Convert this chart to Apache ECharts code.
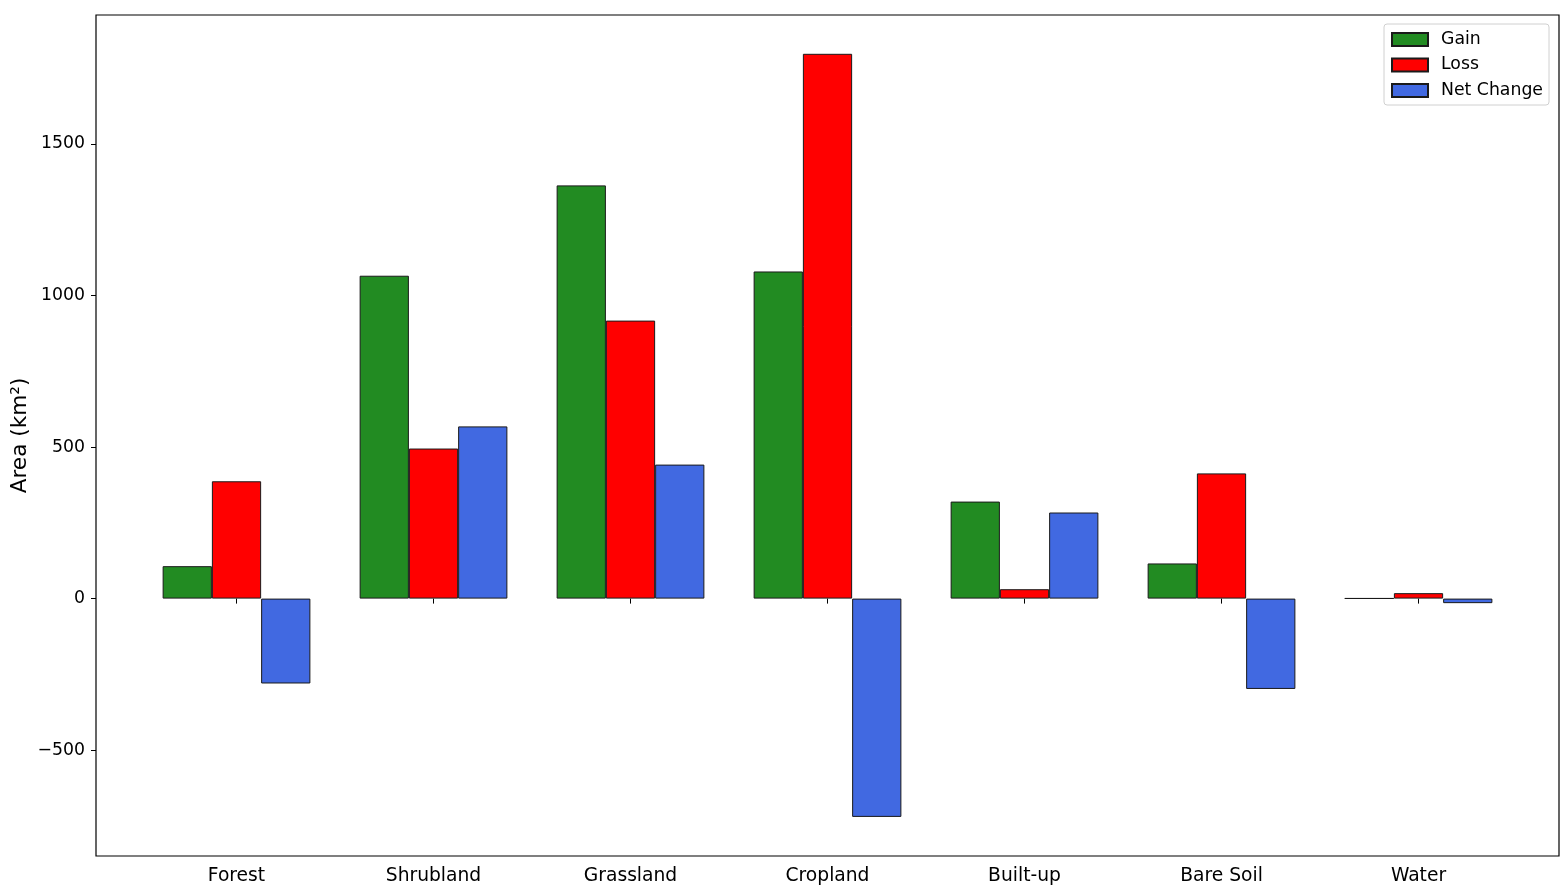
<!DOCTYPE html>
<html>
<head>
<meta charset="utf-8">
<script src="https://cdn.jsdelivr.net/npm/echarts@6/dist/echarts.min.js"></script>
<style>html,body{margin:0;padding:0;background:#fff;}#c{width:1568px;height:894px;}</style>
</head>
<body>
<div id="c"></div>
<script>
const categories = ['Forest', 'Shrubland', 'Grassland', 'Cropland', 'Built-up', 'Bare Soil', 'Water'];
const gain = [107, 1065, 1363, 1079, 320, 116, 1];
const loss = [387, 495, 917, 1797, 31, 413, 18];
const netChange = [-280, 568, 442, -720, 284, -298, -15];
const yTicks = [-500, 0, 500, 1000, 1500];

const chart = echarts.init(document.getElementById('c'), null, {renderer: 'canvas'});
const font = 'DejaVu Sans';
const edge = {borderColor: '#1a1a1a', borderWidth: 1};
function mk(name, data, color) {
  return {
    name: name, type: 'bar', data: data, xAxisIndex: 0, yAxisIndex: 0,
    barGap: '0%', barCategoryGap: '25%',
    itemStyle: Object.assign({color: color}, edge),
    emphasis: {disabled: true}
  };
}
chart.setOption({
  animation: false,
  textStyle: {fontFamily: font},
  grid: [
    {left: 138, right: 51, top: 15, bottom: 38, containLabel: false, outerBoundsMode: 'none'},
    {left: 96, right: 9, top: 15, bottom: 38, show: true, borderColor: '#000', borderWidth: 1.2, backgroundColor: 'transparent', z: 10, outerBoundsMode: 'none'}
  ],
  legend: {
    orient: 'vertical', right: 19, top: 24,
    icon: 'rect',
    itemWidth: 36, itemHeight: 13, itemGap: 8.5,
    padding: [7, 6, 6, 7],
    borderColor: '#d0d0d0', borderWidth: 1, borderRadius: 3, backgroundColor: '#fff',
    textStyle: {fontFamily: font, fontSize: 17.3, color: '#000', lineHeight: 17, padding: [0, 0, 0, 8]},
    data: ['Gain', 'Loss', 'Net Change']
  },
  xAxis: [
    {
      type: 'category', gridIndex: 0, data: categories,
      axisLine: {show: false},
      axisTick: {show: true, alignWithLabel: true, length: 5, lineStyle: {color: '#000'}},
      axisLabel: {fontFamily: font, fontSize: 18.7, color: '#000', margin: 11},
      splitLine: {show: false}
    },
    {type: 'value', gridIndex: 1, show: false}
  ],
  yAxis: [
    {
      type: 'value', gridIndex: 0, min: -849, max: 1925, offset: 42,
      name: 'Area (km²)', nameLocation: 'middle', nameRotate: 90, nameGap: 65, nameMoveOverlap: false,
      nameTextStyle: {fontFamily: font, fontSize: 21.6, color: '#000'},
      axisLine: {show: false},
      axisTick: {show: true, length: 5, lineStyle: {color: '#000'}, customValues: yTicks},
      axisLabel: {fontFamily: font, fontSize: 17.3, color: '#000', margin: 11, customValues: yTicks,
        formatter: v => String(v).replace('-', '\u2212')},
      splitLine: {show: false}
    },
    {type: 'value', gridIndex: 1, show: false}
  ],
  series: [
    mk('Gain', gain, '#228B22'),
    mk('Loss', loss, '#FF0000'),
    mk('Net Change', netChange, '#4169E1')
  ]
});
</script>
</body>
</html>
